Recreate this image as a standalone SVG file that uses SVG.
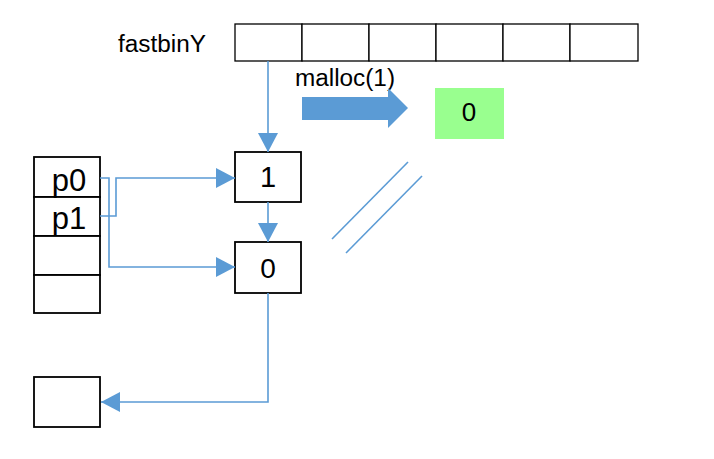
<svg xmlns="http://www.w3.org/2000/svg" width="714" height="459" viewBox="0 0 714 459">
<defs>
<style>
.box{fill:#fff;stroke:#000;stroke-width:1.8}
.cell{fill:#fff;stroke:#000;stroke-width:1.3}
.ln{fill:none;stroke:#5B9BD5;stroke-width:1.6}
.t{font-family:"Liberation Sans",Arial,sans-serif;fill:#000}
.mid{text-anchor:middle}
.lbl{font-size:23px}
.f31{font-size:31px}
.f29{font-size:29px}
.f28{font-size:28px}
.f26{font-size:26px}
</style>
<marker id="ah" markerUnits="userSpaceOnUse" markerWidth="20" markerHeight="20" refX="19" refY="10" orient="auto">
<path d="M0,0 L19,10 L0,20 Z" fill="#5B9BD5"/>
</marker>
</defs>
<rect width="714" height="459" fill="#fff"/>
<g id="fastbinY">
<text class="t lbl" x="118" y="52" textLength="88" lengthAdjust="spacingAndGlyphs">fastbinY</text>
<rect class="cell" x="235" y="24" width="67" height="37"/>
<rect class="cell" x="302" y="24" width="67" height="37"/>
<rect class="cell" x="369" y="24" width="67" height="37"/>
<rect class="cell" x="436" y="24" width="67" height="37"/>
<rect class="cell" x="503" y="24" width="67" height="37"/>
<rect class="cell" x="570" y="24" width="68" height="37"/>
</g>
<g id="stack">
<rect class="box" x="34" y="157" width="66" height="40"/>
<rect class="box" x="34" y="197" width="66" height="39"/>
<rect class="box" x="34" y="236" width="66" height="39"/>
<rect class="box" x="34" y="275" width="66" height="38"/>
<text class="t mid f31" x="69" y="191">p0</text>
<text class="t mid f31" x="69" y="229">p1</text>
</g>
<g id="node1">
<rect class="box" x="235" y="152" width="66" height="50"/>
<text class="t mid f29" x="268" y="187">1</text>
</g>
<g id="node0">
<rect class="box" x="235" y="242" width="66" height="51"/>
<text class="t mid f28" x="268" y="278">0</text>
</g>
<g id="bottom">
<rect class="box" x="34" y="377" width="66" height="50"/>
</g>
<g id="result">
<rect x="435" y="88" width="69" height="51" fill="#99FF8F"/>
<text class="t mid f26" x="469" y="121">0</text>
</g>
<g id="malloc">
<text class="t lbl" x="295" y="86" textLength="100" lengthAdjust="spacingAndGlyphs">malloc(1)</text>
<path d="M302,97 L388,97 L388,88 L408,108 L388,128 L388,120 L302,120 Z" fill="#5B9BD5"/>
</g>
<g id="connectors">
<path class="ln" d="M268,61 L268,152" marker-end="url(#ah)"/>
<path class="ln" d="M268,202 L268,242" marker-end="url(#ah)"/>
<path class="ln" d="M100,178 L109,178 L109,267 L235,267" marker-end="url(#ah)"/>
<path class="ln" d="M100,216 L116,216 L116,178 L235,178" marker-end="url(#ah)"/>
<path class="ln" d="M268,293 L268,402 L101,402" marker-end="url(#ah)"/>
<line class="ln" x1="332" y1="239" x2="408" y2="162"/>
<line class="ln" x1="346" y1="253" x2="422" y2="176"/>
</g>
</svg>
